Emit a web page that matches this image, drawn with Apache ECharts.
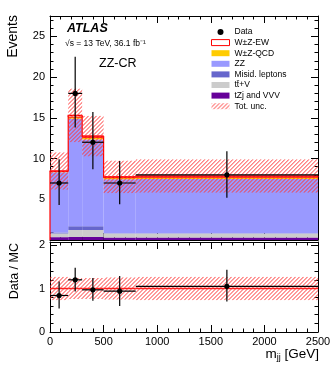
<!DOCTYPE html>
<html>
<head>
<meta charset="utf-8">
<script src="https://cdn.jsdelivr.net/npm/echarts@6/dist/echarts.min.js"></script>
<style>
html, body { margin: 0; padding: 0; background: #fff; }
#main { width: 332px; height: 370px; }
</style>
</head>
<body>
<div id="main"></div>
<script>
// bins in m_jj [GeV]
const binEdges = [0, 170, 300, 500, 800, 2500];

// data (events) and its error bars
const dataCounts = [7, 18, 12, 7, 8];
const dataErrLo = [2.7, 4.2, 3.3, 2.6, 2.8];
const dataErrHi = [2.9, 4.5, 3.7, 2.7, 2.9];

// MC stack, bottom to top
const tzjVVV = [0.35, 0.37, 0.37, 0.3, 0.3];
const ttV = [0.45, 0.86, 0.86, 0.5, 0.5];
const misid = [0.12, 0.46, 0.46, 0.03, 0.03];
const zz = [7.4, 13.2, 10.66, 6.62, 6.67];
const wzQCD = [0.1, 0.2, 0.25, 0.2, 0.2];
const wzEW = [0.05, 0.2, 0.15, 0.1, 0.15];
const totUnc = [2.3, 3.3, 2.5, 2.0, 2.05];

// ratio panel
const ratio = [0.84, 1.2, 0.97, 0.94, 1.05];
const ratioErrLo = [0.3, 0.27, 0.25, 0.34, 0.35];
const ratioErrHi = [0.32, 0.28, 0.27, 0.35, 0.38];
const ratioUnc = [0.27, 0.24, 0.24, 0.26, 0.27];

const FONT = "'Liberation Sans', Arial, Helvetica, sans-serif";
const HATCH = '#ff3636';

// hatch pattern for the legend icon
function hatch(color) {
    const c = document.createElement('canvas');
    c.width = 4; c.height = 4;
    const g = c.getContext('2d');
    g.strokeStyle = color;
    g.lineWidth = 1;
    g.beginPath();
    g.moveTo(0, 4); g.lineTo(4, 0);
    g.moveTo(-1, 1); g.lineTo(1, -1);
    g.moveTo(3, 5); g.lineTo(5, 3);
    g.stroke();
    return { image: c, repeat: 'repeat' };
}
const hatchFill = hatch(HATCH);

// hatched rectangle: thin filled stripes (/ direction), clipped to the box
function hatchRect(x, y, w, h) {
    const step = 4, sw = 1.0;
    let d = '';
    let c = Math.ceil((x + y) / step) * step;
    for (; c <= x + w + y + h + step; c += step) {
        const k = c - y - h;
        d += 'M' + k + ' ' + (y + h) + 'L' + (k + h) + ' ' + y +
             'L' + (k + h + sw) + ' ' + y + 'L' + (k + sw) + ' ' + (y + h) + 'Z';
    }
    return {
        type: 'group',
        clipPath: { type: 'rect', shape: { x: x, y: y, width: w, height: h } },
        children: [{
            type: 'path',
            shape: { pathData: d },
            style: { fill: HATCH, stroke: null }
        }]
    };
}

// stack layers
const layers = [
    { name: 'tZj and VVV', vals: tzjVVV, fill: '#660099' },
    { name: 'tt\u0304+V', vals: ttV, fill: '#cccccc' },
    { name: 'Misid. leptons', vals: misid, fill: '#6666cc' },
    { name: 'ZZ', vals: zz, fill: '#9999ff' },
    { name: 'W\u00b1Z-QCD', vals: wzQCD, fill: '#ffcc00' },
    { name: 'W\u00b1Z-EW', vals: wzEW, fill: '#ffffff', stroke: '#ff0000' }
];

const nBins = dataCounts.length;
let base = new Array(nBins).fill(0);
const series = [];

function rectRender(fill, stroke) {
    return function (params, api) {
        const a = api.coord([api.value(0), api.value(2)]);
        const b = api.coord([api.value(1), api.value(3)]);
        return {
            type: 'rect',
            shape: { x: a[0], y: b[1], width: b[0] - a[0], height: a[1] - b[1] },
            style: { fill: fill, stroke: stroke || null, lineWidth: 1 }
        };
    };
}

function bandRender(withLine) {
    return function (params, api) {
        const a = api.coord([api.value(0), api.value(2)]);
        const b = api.coord([api.value(1), api.value(3)]);
        const g = hatchRect(a[0], b[1], b[0] - a[0], a[1] - b[1]);
        if (!withLine) return g;
        const m0 = api.coord([api.value(0), 1]);
        const m1 = api.coord([api.value(1), 1]);
        return { type: 'group', children: [g,
            { type: 'line', shape: { x1: m0[0], y1: m0[1], x2: m1[0], y2: m1[1] }, style: { stroke: '#ff2020', lineWidth: 1.5 } }] };
    };
}

layers.forEach(function (l) {
    const d = [];
    for (let i = 0; i < nBins; i++) {
        d.push([binEdges[i], binEdges[i + 1], base[i], base[i] + l.vals[i]]);
        base[i] += l.vals[i];
    }
    series.push({
        name: l.name, type: 'custom', xAxisIndex: 0, yAxisIndex: 0,
        renderItem: rectRender(l.fill, l.stroke),
        encode: { x: [0, 1], y: [2, 3] },
        itemStyle: { color: l.fill },
        data: d
    });
});
const total = base.slice();

// total outline (step)
series.push({
    name: 'outline', type: 'custom', xAxisIndex: 0, yAxisIndex: 0,
    encode: { x: [0, 1], y: [2, 3] },
    renderItem: function (params, api) {
        const p0 = api.coord([api.value(0), api.value(2)]);
        const p1 = api.coord([api.value(0), api.value(3)]);
        const p2 = api.coord([api.value(1), api.value(3)]);
        return {
            type: 'polyline',
            shape: { points: [p0, p1, p2] },
            style: { stroke: '#ff0000', lineWidth: 1.2, fill: null }
        };
    },
    data: total.map(function (t, i) {
        return [binEdges[i], binEdges[i + 1], i === 0 ? 0 : total[i - 1], t];
    })
});

// total uncertainty band
series.push({
    name: 'Tot. unc.', type: 'custom', xAxisIndex: 0, yAxisIndex: 0,
    encode: { x: [0, 1], y: [2, 3] },
    itemStyle: { color: HATCH },
    renderItem: bandRender(false),
    data: total.map(function (t, i) {
        return [binEdges[i], binEdges[i + 1], t - totUnc[i], t + totUnc[i]];
    })
});

function pointRender(params, api) {
    const c = api.coord([api.value(0), api.value(1)]);
    const lo = api.coord([api.value(0), api.value(2)]);
    const hi = api.coord([api.value(0), api.value(3)]);
    const l = api.coord([api.value(4), api.value(1)]);
    const r = api.coord([api.value(5), api.value(1)]);
    return {
        type: 'group',
        children: [
            { type: 'line', shape: { x1: lo[0], y1: lo[1], x2: hi[0], y2: hi[1] }, style: { stroke: '#000', lineWidth: 1.2 } },
            { type: 'line', shape: { x1: l[0], y1: l[1], x2: r[0], y2: r[1] }, style: { stroke: '#000', lineWidth: 1.2 } },
            { type: 'circle', shape: { cx: c[0], cy: c[1], r: 2.6 }, style: { fill: '#000' } }
        ]
    };
}

series.push({
    name: 'Data', type: 'custom', xAxisIndex: 0, yAxisIndex: 0,
    encode: { x: [0, 4, 5], y: [1, 2, 3] },
    renderItem: pointRender,
    itemStyle: { color: '#000' },
    data: dataCounts.map(function (n, i) {
        return [(binEdges[i] + binEdges[i + 1]) / 2, n, n - dataErrLo[i], n + dataErrHi[i], binEdges[i], binEdges[i + 1]];
    })
});

// ratio band with line at 1
series.push({
    name: 'ratio unc', type: 'custom', xAxisIndex: 2, yAxisIndex: 2,
    encode: { x: [0, 1], y: [2, 3] },
    itemStyle: { color: HATCH },
    renderItem: bandRender(true),
    data: ratioUnc.map(function (u, i) {
        return [binEdges[i], binEdges[i + 1], 1 - u, 1 + u];
    })
});

series.push({
    name: 'ratio data', type: 'custom', xAxisIndex: 2, yAxisIndex: 2,
    encode: { x: [0, 4, 5], y: [1, 2, 3] },
    renderItem: pointRender,
    data: ratio.map(function (r, i) {
        return [(binEdges[i] + binEdges[i + 1]) / 2, r, r - ratioErrLo[i], r + ratioErrHi[i], binEdges[i], binEdges[i + 1]];
    })
});

const tickCommon = { show: true, inside: true, length: 7, lineStyle: { color: '#000', width: 1 } };
const minorCommon = { show: true, splitNumber: 5, length: 3.5, lineStyle: { color: '#000', width: 1 } };
const lineCommon = { show: true, onZero: false, lineStyle: { color: '#000', width: 1 } };
const labelCommon = { color: '#000', fontSize: 11, fontFamily: FONT };

function xAx(grid, pos, showLabel) {
    return {
        type: 'value', gridIndex: grid, position: pos, min: 0, max: 2500, interval: 500,
        axisLine: lineCommon, axisTick: tickCommon, minorTick: minorCommon,
        splitLine: { show: false },
        axisLabel: Object.assign({ show: showLabel, margin: 4, formatter: function (v) { return String(v); } }, labelCommon)
    };
}
function yAx(grid, pos, max, interval, showLabel) {
    return {
        type: 'value', gridIndex: grid, position: pos, min: 0, max: max, interval: interval,
        axisLine: lineCommon, axisTick: tickCommon, minorTick: minorCommon,
        splitLine: { show: false },
        axisLabel: Object.assign({
            show: showLabel, margin: 5,
            formatter: function (v) {
                if (v === 0 && grid === 0) return '';
                return (Math.abs(v / interval - Math.round(v / interval)) > 1e-6) ? '' : String(v);
            }
        }, labelCommon)
    };
}

const myChart = echarts.init(document.getElementById('main'), null, { renderer: 'canvas' });
const option = {
    animation: false,
    backgroundColor: '#fff',
    grid: [
        { left: 50, top: 16, width: 268, height: 224, containLabel: false, outerBoundsMode: 'none' },
        { left: 50, top: 242, width: 268, height: 90, containLabel: false, outerBoundsMode: 'none' }
    ],
    xAxis: [xAx(0, 'bottom', false), xAx(0, 'top', false), xAx(1, 'bottom', true), xAx(1, 'top', false)],
    yAxis: [yAx(0, 'left', 27.5, 5, true), yAx(0, 'right', 27.5, 5, false),
            yAx(1, 'left', 2.07, 1, true), yAx(1, 'right', 2.07, 1, false)],
    legend: {
        orient: 'vertical', left: 206, top: 22,
        itemWidth: 18, itemHeight: 6, itemGap: 0.6,
        selectedMode: false,
        textStyle: { fontSize: 8.5, fontFamily: FONT, color: '#000', lineHeight: 10 },
        data: [
            { name: 'Data', icon: 'circle', itemStyle: { color: '#000' } },
            { name: 'W\u00b1Z-EW', icon: 'rect', itemStyle: { color: '#fff', borderColor: '#ff0000', borderWidth: 1 } },
            { name: 'W\u00b1Z-QCD', icon: 'rect', itemStyle: { color: '#ffcc00' } },
            { name: 'ZZ', icon: 'rect', itemStyle: { color: '#9999ff' } },
            { name: 'Misid. leptons', icon: 'rect', itemStyle: { color: '#6666cc' } },
            { name: 'tt\u0304+V', icon: 'rect', itemStyle: { color: '#cccccc' } },
            { name: 'tZj and VVV', icon: 'rect', itemStyle: { color: '#660099' } },
            { name: 'Tot. unc.', icon: 'rect', itemStyle: { color: hatchFill } }
        ]
    },
    graphic: [
        { type: 'text', left: 67, top: 22, style: { text: 'ATLAS', font: "italic bold 12.5px " + FONT, fill: '#000' } },
        { type: 'text', left: 65, top: 39, style: { text: '\u221as = 13 TeV, 36.1 fb\u207b\u00b9', font: "8.5px " + FONT, fill: '#000' } },
        { type: 'text', left: 99, top: 57, style: { text: 'ZZ-CR', font: "12.5px " + FONT, fill: '#000' } },
        { type: 'text', x: 13, y: 15, rotation: Math.PI / 2, style: { text: 'Events', font: "14px " + FONT, fill: '#000', align: 'right', verticalAlign: 'middle' } },
        { type: 'text', x: 15, y: 243, rotation: Math.PI / 2, style: { text: 'Data / MC', font: "12.5px " + FONT, fill: '#000', align: 'right', verticalAlign: 'middle' } },
        { type: 'text', x: 319, y: 347, style: {
            text: '{m|m}{s|jj}{m| [GeV]}', align: 'right', verticalAlign: 'top', fill: '#000',
            rich: {
                m: { fontSize: 13.5, fontFamily: FONT, fill: '#000', verticalAlign: 'top' },
                s: { fontSize: 9, fontFamily: FONT, fill: '#000', padding: [6, 0, 0, 0], verticalAlign: 'top' }
            }
        } }
    ],
    series: series
};
myChart.setOption(option, true);
window.onresize = myChart.resize;
</script>
</body>
</html>
